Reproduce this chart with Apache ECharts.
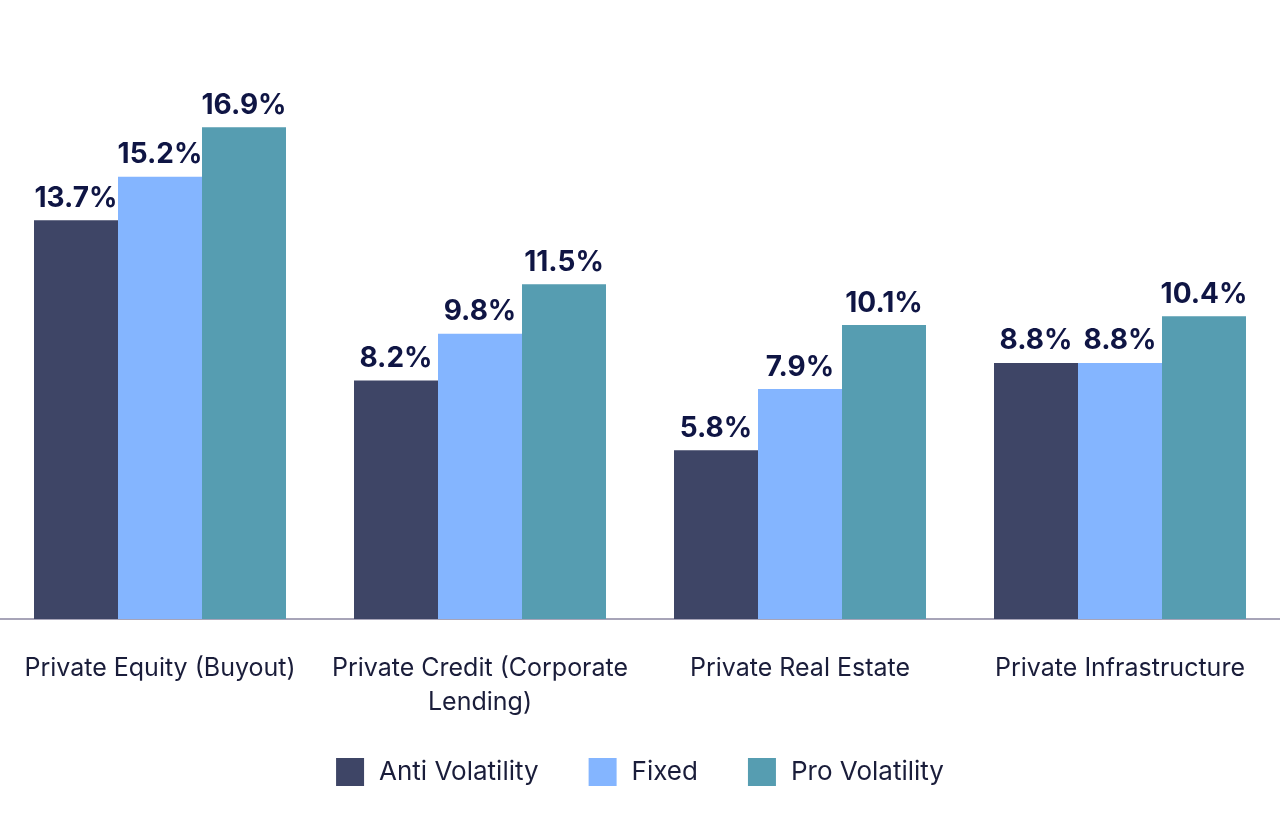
<!DOCTYPE html>
<html><head><meta charset="utf-8">
<script src="https://cdn.jsdelivr.net/npm/echarts@6/dist/echarts.min.js"></script>
<style>html,body{margin:0;background:#fff;overflow:hidden}#c{width:1280px;height:816px}</style>
</head><body><div id="c"></div>
<script>
const categories = ['Private Equity (Buyout)', 'Private Credit (Corporate\nLending)', 'Private Real Estate', 'Private Infrastructure'];
const antiVol = [13.7, 8.2, 5.8, 8.8];
const fixed   = [15.2, 9.8, 7.9, 8.8];
const proVol  = [16.9, 11.5, 10.1, 10.4];

const chart = echarts.init(document.getElementById('c'));
const lbl = { show: true, position: 'top', distance: 8, formatter: p => p.value.toFixed(1) + '%',
  fontFamily: 'Inter', fontSize: 28, fontWeight: 'bold', color: '#0f1544' };
const mk = (name, data, color) => ({ name, type: 'bar', data, barWidth: 84, barGap: '0%',
  itemStyle: { color }, label: lbl });
chart.setOption({
  textStyle: { fontFamily: 'Inter' },
  grid: { left: -4, width: 1432, top: 37, bottom: 197, containLabel: false },
  xAxis: { type: 'category', data: categories,
    axisLine: { lineStyle: { color: '#8a86a0', width: 1.5 } }, axisTick: { show: false },
    axisLabel: { fontSize: 25, color: '#1a1d3a', margin: 32, lineHeight: 34, interval: 0 } },
  yAxis: { type: 'value', min: 0, max: 20, show: false, splitLine: { show: false } },
  legend: { bottom: 25, left: 'center', itemWidth: 28, itemHeight: 28, itemGap: 50,
    icon: 'rect', textStyle: { fontSize: 26, color: '#1a1d3a', padding: [0, 0, 0, 10] } },
  series: [mk('Anti Volatility', antiVol, '#3e4566'), mk('Fixed', fixed, '#84b5ff'), mk('Pro Volatility', proVol, '#569db1')]
});
</script></body></html>
